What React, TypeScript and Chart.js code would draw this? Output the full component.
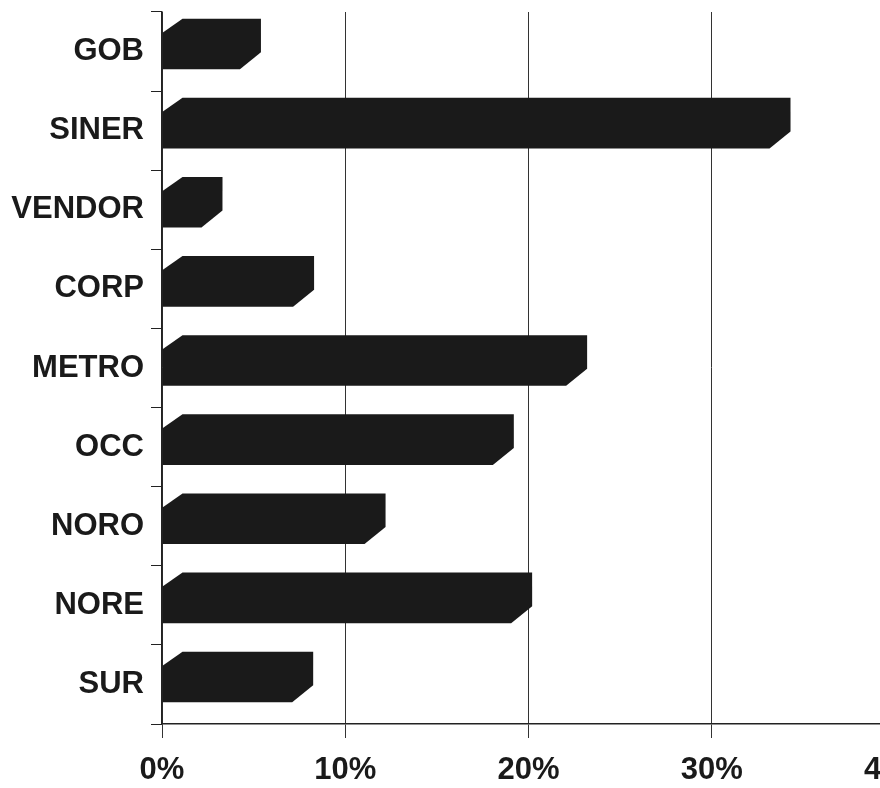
import React, { useEffect, useRef } from 'react';
import { Chart, registerables } from 'chart.js';

Chart.register(...registerables);

const categories = ['GOB', 'SINER', 'VENDOR', 'CORP', 'METRO', 'OCC', 'NORO', 'NORE', 'SUR'];
const shares = [5.4, 34.3, 3.3, 8.3, 23.2, 19.2, 12.2, 20.2, 8.25];
const xTickValues = [0, 10, 20, 30, 40];

const FONT = '"Liberation Sans", Arial, Helvetica, sans-serif';

const bevelBars = {
  id: 'bevelBars',
  afterDatasetsDraw(chart: any) {
    const ctx = chart.ctx;
    const meta = chart.getDatasetMeta(0);
    ctx.save();
    ctx.fillStyle = '#1a1a1a';
    meta.data.forEach((el: any) => {
      const { x, y, base, height } = el.getProps(['x', 'y', 'base', 'height'], true);
      const x0 = Math.min(base, x);
      const x1 = Math.max(base, x);
      const shift = 7.5;
      const yt = y - height / 2 - shift;
      const yb = y + height / 2 - shift;
      ctx.beginPath();
      ctx.moveTo(x0, yt + 14);
      ctx.lineTo(x0 + 20, yt);
      ctx.lineTo(x1, yt);
      ctx.lineTo(x1, yb - 17);
      ctx.lineTo(x1 - 21, yb);
      ctx.lineTo(x0, yb);
      ctx.closePath();
      ctx.fill();
    });
    ctx.restore();
  },
};

export default function App() {
  const ref = useRef<HTMLCanvasElement | null>(null);

  useEffect(() => {
    if (!ref.current) return;
    const chart = new Chart(ref.current, {
      type: 'bar',
      data: {
        labels: categories,
        datasets: [
          {
            data: shares,
            backgroundColor: 'rgba(0,0,0,0)',
            borderWidth: 0,
            categoryPercentage: 1,
            barPercentage: 0.64,
          },
        ],
      },
      options: {
        indexAxis: 'y',
        responsive: false,
        animation: false,
        layout: { padding: { top: 12, right: 45, left: 0, bottom: 0 } },
        plugins: { legend: { display: false }, tooltip: { enabled: false } },
        scales: {
          x: {
            min: 0,
            max: 40,
            afterBuildTicks: (s: any) => {
              s.ticks = xTickValues.map((v) => ({ value: v }));
            },
            afterFit: (s: any) => {
              s.height = 64;
            },
            ticks: {
              callback: (v: any) => v + '%',
              color: '#1a1a1a',
              font: { family: FONT, size: 31, weight: 'bold' },
              padding: 14,
              maxRotation: 0,
            },
            grid: {
              color: '#333',
              lineWidth: 1,
              tickLength: 14,
              drawTicks: true,
            },
            border: { display: true, color: '#222', width: 1.5 },
          },
          y: {
            afterFit: (s: any) => {
              s.width = 162;
              s.paddingTop = 0;
              s.paddingBottom = 0;
            },
            ticks: {
              color: '#1a1a1a',
              font: { family: FONT, size: 31, weight: 'bold' },
              padding: 7,
            },
            grid: {
              offset: true,
              drawOnChartArea: false,
              drawTicks: true,
              tickLength: 11,
              color: '#222',
              lineWidth: 1,
            },
            border: { display: true, color: '#222', width: 1.5 },
          },
        },
      },
      plugins: [bevelBars],
    });
    return () => chart.destroy();
  }, []);

  return (
    <div
      style={{
        position: 'fixed',
        left: 0,
        top: 0,
        width: 880,
        height: 788,
        overflow: 'hidden',
        background: '#fff',
      }}
    >
      <canvas ref={ref} width={940} height={788} style={{ display: 'block' }} />
    </div>
  );
}
